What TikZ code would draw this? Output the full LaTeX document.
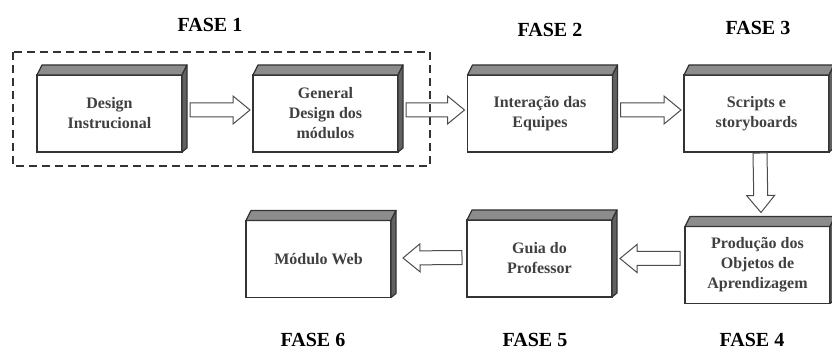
\documentclass[tikz,border=0pt]{standalone}
\usepackage{fontspec}
\setmainfont{Liberation Serif}
\usetikzlibrary{calc}

\tikzset{
  caixa/.style={draw=black!80, line width=1.2pt, fill=white, minimum width=145pt,
    minimum height=77pt, outer sep=0pt, align=center, text=black!75,
    font=\fontsize{16}{20}\selectfont\bfseries},
  topo/.style={draw=black!80, line width=1.2pt, fill=black!45, line join=round},
  lado/.style={draw=black!80, line width=1.2pt, fill=black!62, line join=round},
  fase/.style={font=\fontsize{20}{24}\selectfont\bfseries},
  tracejado/.style={draw=black!80, line width=1.3pt, dash pattern=on 8pt off 5pt},
  setabloco/.style={draw=black!70, line width=1pt, fill=white, line join=miter,
    to path={let \p1=($(\tikztotarget)!17pt!(\tikztostart)$) in
      ($(\tikztostart)!7pt!90:(\tikztotarget)$) -- ($(\p1)!7pt!90:(\tikztotarget)$)
      -- ($(\p1)!14pt!90:(\tikztotarget)$) -- (\tikztotarget)
      -- ($(\p1)!14pt!-90:(\tikztotarget)$) -- ($(\p1)!7pt!-90:(\tikztotarget)$)
      -- ($(\tikztostart)!7pt!-90:(\tikztotarget)$) -- cycle}}
}

\begin{document}
\begin{tikzpicture}[x=1pt,y=-1pt]
    \useasboundingbox[fill=white] (0,0) rectangle (832,355);

    % Boxes
    \node[caixa] (design) at (109.5,113.5) {Design\\Instrucional};
    \node[caixa] (geral) at (325.5,113.5) {General\\Design dos\\módulos};
    \node[caixa] (equipes) at (540,113.5) {Interação das\\Equipes};
    \node[caixa] (roteiros) at (756.5,113.5) {Scripts e\\storyboards};
    \node[caixa] (producao) at (757.5,265) {Produção dos\\Objetos de\\Aprendizagem};
    \node[caixa] (guia) at (539.5,258.5) {Guia do\\Professor};
    \node[caixa] (web) at (318.5,259) {Módulo Web};

    % 3D faces
    \foreach \n in {design,geral,equipes,roteiros,producao,guia,web} {
        \filldraw[topo] (\n.north west) -- ++(5,-10) -- ($(\n.north east)+(5,-10)$)
            -- (\n.north east) -- cycle;
        \filldraw[lado] (\n.north east) -- ++(5,-10) -- ($(\n.south east)+(5,-4)$)
            -- (\n.south east) -- cycle;
    }

    % Block arrows
    \draw[setabloco] ([xshift=8pt,yshift=3.5pt]design.east) to ([xshift=-3pt,yshift=3.5pt]geral.west);
    \draw[setabloco] ([xshift=8pt,yshift=3.5pt]geral.east) to ([xshift=-3pt,yshift=3.5pt]equipes.west);
    \draw[setabloco] ([xshift=8pt,yshift=3.5pt]equipes.east) to ([xshift=-3pt,yshift=3.5pt]roteiros.west);
    \draw[setabloco] ([xshift=3.5pt,yshift=-1pt]roteiros.south) to ([xshift=3.5pt,yshift=14pt]producao.north);
    \draw[setabloco] ([xshift=-5pt,yshift=6.5pt]producao.west) to ([xshift=8pt]guia.east);
    \draw[setabloco] ([xshift=-5pt,yshift=1pt]guia.west) to ([xshift=12pt,yshift=1pt]web.east);

    % Phase 1 frame
    \draw[tracejado] (13,52) rectangle (430,166);

    % Labels
    \node[fase] (fase1) at (210,25) {FASE 1};
    \node[fase] (fase2) at (550,30) {FASE 2};
    \node[fase] (fase3) at (758,28) {FASE 3};
    \node[fase] (fase4) at (752,340) {FASE 4};
    \node[fase] (fase5) at (535,340) {FASE 5};
    \node[fase] (fase6) at (313,340) {FASE 6};
\end{tikzpicture}
\end{document}
